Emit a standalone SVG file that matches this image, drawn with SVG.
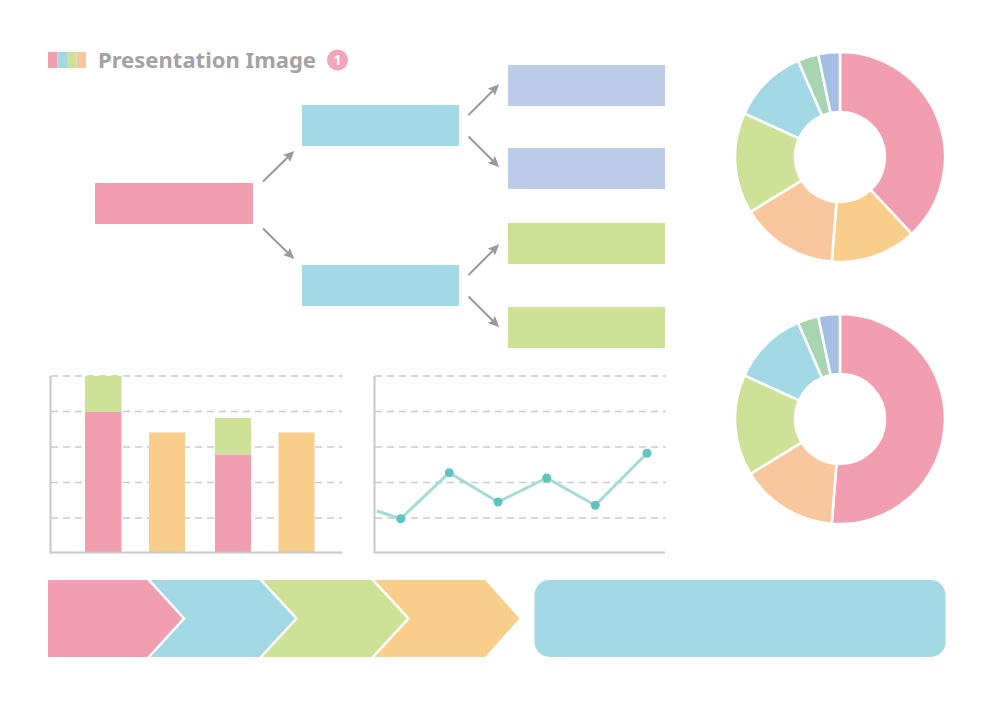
<svg xmlns="http://www.w3.org/2000/svg" width="1000" height="707" viewBox="0 0 1000 707">
<style>
.pink{fill:#f19eb1}.blue{fill:#a2d9e5}.green{fill:#cde197}.yellow{fill:#f9ce8b}.peach{fill:#f8c79d}.mint{fill:#a8d5b1}.lav{fill:#a5bee3}.lavbox{fill:#bccce8}
.slice{stroke:#fff;stroke-width:2.5;stroke-linejoin:round}
.conn{stroke:#999;stroke-width:2;fill:none}
.grid{stroke:#cacaca;stroke-width:1.5;stroke-dasharray:7 5;fill:none}
.axis{stroke:#c8c8c8;stroke-width:2;fill:none}
.sep{stroke:#fff;stroke-width:2.5;fill:none}
</style>
<defs>
<marker id="ah" markerUnits="userSpaceOnUse" markerWidth="11" markerHeight="10" refX="2" refY="5" orient="auto" viewBox="0 0 11 10">
<path d="M0,0 L11,5 L0,10 L2,5 z" fill="#999"/>
</marker>
</defs>
<rect width="1000" height="707" fill="#fff"/>

<g id="title">
<rect x="48" y="52" width="9.5" height="16" class="pink"/>
<rect x="57.5" y="52" width="9.5" height="16" class="blue"/>
<rect x="67" y="52" width="9.5" height="16" class="green"/>
<rect x="76.5" y="52" width="9.5" height="16" class="peach"/>
<text x="98" y="68" font-family="Noto Sans, Liberation Sans, sans-serif" font-weight="700" font-size="22" fill="#a3a3a3" textLength="218" lengthAdjust="spacingAndGlyphs">Presentation Image</text>
<circle cx="337.5" cy="60" r="10.5" fill="#f1a5b9"/>
<text x="337.5" y="65" text-anchor="middle" font-family="Noto Sans, Liberation Sans, sans-serif" font-weight="700" font-size="14" fill="#fff">1</text>
</g>

<g id="connectors">
<line class="conn" x1="263" y1="181.5" x2="287.8" y2="157.2" marker-end="url(#ah)"/>
<line class="conn" x1="263" y1="228.5" x2="287.8" y2="252.8" marker-end="url(#ah)"/>
<line class="conn" x1="468.5" y1="115" x2="492.8" y2="90.7" marker-end="url(#ah)"/>
<line class="conn" x1="468.5" y1="136.5" x2="492.8" y2="160.8" marker-end="url(#ah)"/>
<line class="conn" x1="468.5" y1="275" x2="492.8" y2="250.7" marker-end="url(#ah)"/>
<line class="conn" x1="468.5" y1="296.5" x2="492.8" y2="320.8" marker-end="url(#ah)"/>
</g>

<g id="node-root"><rect x="95" y="183" width="158" height="41" class="pink"/></g>
<g id="node-mid1"><rect x="302" y="105" width="157" height="41" class="blue"/></g>
<g id="node-mid2"><rect x="302" y="265" width="157" height="41" class="blue"/></g>
<g id="node-leaf1"><rect x="508" y="65" width="157" height="41" class="lavbox"/></g>
<g id="node-leaf2"><rect x="508" y="148" width="157" height="41" class="lavbox"/></g>
<g id="node-leaf3"><rect x="508" y="223" width="157" height="41" class="green"/></g>
<g id="node-leaf4"><rect x="508" y="307" width="157" height="41" class="green"/></g>

<g id="donut1">
<path class="slice pink" d="M840,52 A105,105 0 0 1 911.61,233.79 L870.69,189.91 A45,45 0 0 0 840,112 Z"/>
<path class="slice yellow" d="M911.61,233.79 A105,105 0 0 1 831.76,261.68 L836.47,201.86 A45,45 0 0 0 870.69,189.91 Z"/>
<path class="slice peach" d="M831.76,261.68 A105,105 0 0 1 750.47,211.86 L801.63,180.51 A45,45 0 0 0 836.47,201.86 Z"/>
<path class="slice green" d="M750.47,211.86 A105,105 0 0 1 744.45,113.46 L799.05,138.34 A45,45 0 0 0 801.63,180.51 Z"/>
<path class="slice blue" d="M744.45,113.46 A105,105 0 0 1 798.13,60.71 L822.06,115.73 A45,45 0 0 0 799.05,138.34 Z"/>
<path class="slice mint" d="M798.13,60.71 A105,105 0 0 1 818.17,54.29 L830.64,112.98 A45,45 0 0 0 822.06,115.73 Z"/>
<path class="slice lav" d="M818.17,54.29 A105,105 0 0 1 840,52 L840,112 A45,45 0 0 0 830.64,112.98 Z"/>
</g>

<g id="donut2">
<path class="slice pink" d="M840,314 A105,105 0 1 1 831.76,523.68 L836.47,463.86 A45,45 0 1 0 840,374 Z"/>
<path class="slice peach" d="M831.76,523.68 A105,105 0 0 1 750.47,473.86 L801.63,442.51 A45,45 0 0 0 836.47,463.86 Z"/>
<path class="slice green" d="M750.47,473.86 A105,105 0 0 1 744.45,375.46 L799.05,400.34 A45,45 0 0 0 801.63,442.51 Z"/>
<path class="slice blue" d="M744.45,375.46 A105,105 0 0 1 798.13,322.71 L822.06,377.73 A45,45 0 0 0 799.05,400.34 Z"/>
<path class="slice mint" d="M798.13,322.71 A105,105 0 0 1 818.17,316.29 L830.64,374.98 A45,45 0 0 0 822.06,377.73 Z"/>
<path class="slice lav" d="M818.17,316.29 A105,105 0 0 1 840,314 L840,374 A45,45 0 0 0 830.64,374.98 Z"/>
</g>

<g id="bar-chart">
<path class="grid" d="M51,376H342M51,411.5H342M51,447H342M51,482.5H342M51,518H342"/>
<rect x="85" y="376" width="36.5" height="36" class="green"/>
<rect x="85" y="412" width="36.5" height="140" class="pink"/>
<rect x="149" y="432.5" width="36" height="119.5" class="yellow"/>
<rect x="215" y="418" width="36" height="36.5" class="green"/>
<rect x="215" y="454.5" width="36" height="97.5" class="pink"/>
<rect x="278.5" y="432.5" width="36" height="119.5" class="yellow"/>
<path class="axis" d="M50.5,376V552.5H342"/>
</g>

<g id="line-chart">
<path class="grid" d="M375,376H666M375,411.5H666M375,447H666M375,482.5H666M375,518H666"/>
<path class="axis" d="M374.5,376V552.5H665"/>
<polyline points="377,511 400.7,518.7 449.3,472.7 498,502 546.7,478 595.3,505.3 647,453.3" fill="none" stroke="#a3dbd5" stroke-width="3" stroke-linejoin="round"/>
<g fill="#5ec4bd">
<circle cx="400.7" cy="518.7" r="4.5"/>
<circle cx="449.3" cy="472.7" r="4.5"/>
<circle cx="498" cy="502" r="4.5"/>
<circle cx="546.7" cy="478" r="4.5"/>
<circle cx="595.3" cy="505.3" r="4.5"/>
<circle cx="647" cy="453.3" r="4.5"/>
</g>
</g>

<g id="chevron1"><polygon class="pink" points="48,580 148,580 184,618.5 148,657 48,657"/></g>
<g id="chevron2"><polygon class="blue" points="148,580 260,580 296.5,618.5 260,657 148,657 184,618.5"/></g>
<g id="chevron3"><polygon class="green" points="260,580 372,580 408.5,618.5 372,657 260,657 296.5,618.5"/></g>
<g id="chevron4"><polygon class="yellow" points="372,580 485,580 519.5,618.5 485,657 372,657 408.5,618.5"/></g>
<path class="sep" d="M148,579 L184,618.5 L148,658 M260,579 L296.5,618.5 L260,658 M372,579 L408.5,618.5 L372,658"/>

<g id="panel"><rect x="534.5" y="580" width="411" height="77" rx="15" ry="15" class="blue"/></g>
</svg>
